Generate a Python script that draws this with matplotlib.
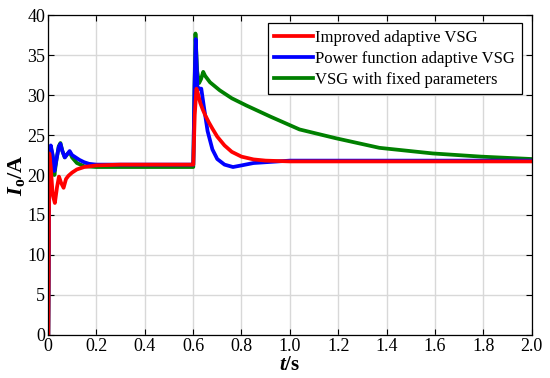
import matplotlib
matplotlib.use("Agg")
import matplotlib.pyplot as plt

plt.rcParams['font.family'] = ['Liberation Serif', 'DejaVu Serif']
plt.rcParams['mathtext.fontset'] = 'custom'
plt.rcParams['mathtext.rm'] = 'Liberation Serif'
plt.rcParams['mathtext.it'] = 'Liberation Serif:italic'
plt.rcParams['mathtext.bf'] = 'Liberation Serif:bold'
plt.rcParams['mathtext.bfit'] = 'Liberation Serif:italic:bold'

# improved adaptive VSG (red)
t_red = [0, 0.002, 0.006, 0.012, 0.02, 0.029, 0.038, 0.046, 0.055, 0.065, 0.075,
         0.085, 0.1, 0.12, 0.15, 0.2, 0.3, 0.6, 0.601, 0.607, 0.614, 0.62, 0.63,
         0.64, 0.65, 0.665, 0.68, 0.7, 0.73, 0.76, 0.8, 0.85, 0.9, 1.0, 1.2,
         1.5, 2.0]
i_red = [0, 0, 22.7, 21.0, 17.5, 16.5, 18.5, 19.8, 19.0, 18.4, 19.5,
         19.9, 20.3, 20.7, 21.0, 21.2, 21.3, 21.3, 21.3, 27.5, 30.8, 30.2, 29.0,
         28.2, 27.5, 26.6, 25.8, 24.8, 23.7, 22.9, 22.3, 21.95, 21.8, 21.7, 21.7,
         21.7, 21.7]

# power function adaptive VSG (blue)
t_blue = [0, 0.002, 0.006, 0.012, 0.02, 0.027, 0.036, 0.045, 0.052, 0.06, 0.07,
          0.08, 0.09, 0.1, 0.115, 0.13, 0.15, 0.17, 0.2, 0.3, 0.6, 0.601, 0.606,
          0.611, 0.618, 0.626, 0.634, 0.645, 0.66, 0.68, 0.7, 0.73, 0.765, 0.8,
          0.85, 0.9, 1.0, 1.5, 2.0]
i_blue = [0, 0, 20, 23.7, 22.5, 20.5, 22.0, 23.5, 23.9, 23.0, 22.2,
          22.6, 23.0, 22.5, 22.2, 21.9, 21.6, 21.4, 21.3, 21.3, 21.3, 21.3, 31,
          37.0, 31.0, 30.8, 30.8, 28.5, 25.5, 23.2, 22.0, 21.3, 21.0, 21.2,
          21.5, 21.6, 21.8, 21.8, 21.8]

# VSG with fixed parameters (green)
t_green = [0, 0.002, 0.006, 0.012, 0.02, 0.027, 0.036, 0.045, 0.052, 0.06, 0.07,
           0.08, 0.09, 0.1, 0.12, 0.15, 0.2, 0.3, 0.6, 0.601, 0.606, 0.61, 0.617,
           0.625, 0.633, 0.642, 0.65, 0.67, 0.71, 0.76, 0.82, 0.92, 1.04, 1.19,
           1.37, 1.59, 1.79, 2.0]
i_green = [0, 0, 20, 23.5, 22.3, 20.0, 22.0, 23.6, 24.0, 23.0, 22.2,
           22.6, 22.9, 22.2, 21.5, 21.1, 21.0, 21.0, 21.0, 21.0, 31, 37.7, 33,
           31.5, 32.0, 32.9, 32.4, 31.6, 30.6, 29.6, 28.7, 27.3, 25.7, 24.6,
           23.4, 22.7, 22.3, 22.0]

labels = ['Improved adaptive VSG', 'Power function adaptive VSG',
          'VSG with fixed parameters']
xticks = [0, 0.2, 0.4, 0.6, 0.8, 1.0, 1.2, 1.4, 1.6, 1.8, 2.0]
xticklabels = ['0', '0.2', '0.4', '0.6', '0.8', '1.0', '1.2', '1.4', '1.6', '1.8', '2.0']
yticks = [0, 5, 10, 15, 20, 25, 30, 35, 40]

fig = plt.figure(figsize=(5.5, 3.78), dpi=100)
ax = fig.add_subplot(111)
fig.subplots_adjust(left=0.087, right=0.967, top=0.960, bottom=0.114)

lw = 2.7
lg, = ax.plot(t_green, i_green, color='#008000', lw=lw)
lb, = ax.plot(t_blue, i_blue, color='#0000ff', lw=lw)
lr, = ax.plot(t_red, i_red, color='#ff0000', lw=lw)

ax.set_xlim(0, 2.0)
ax.set_ylim(0, 40)
ax.set_xticks(xticks)
ax.set_xticklabels(xticklabels)
ax.set_yticks(yticks)
ax.grid(True, color='#d8d8d8', lw=1.0)
ax.set_axisbelow(True)
ax.tick_params(direction='in', length=4, top=True, right=True, labelsize=13, pad=2)
for s in ax.spines.values():
    s.set_linewidth(0.9)

ax.set_xlabel(r'$\mathbfit{t}\mathbf{/s}$', fontsize=15, labelpad=1)
ax.set_ylabel(r'$\mathbfit{I}_{\mathbf{o}}\mathbf{/A}$', fontsize=16, labelpad=0)

leg = ax.legend([lr, lb, lg], labels, loc='upper right',
                bbox_to_anchor=(0.979, 0.975), borderaxespad=0,
                fontsize=12, fancybox=False, framealpha=1,
                edgecolor='black', handlelength=2.3, handletextpad=0.15,
                labelspacing=0.3, borderpad=0.4)
leg.get_frame().set_linewidth(0.9)

fig.savefig('out.png', dpi=100)
